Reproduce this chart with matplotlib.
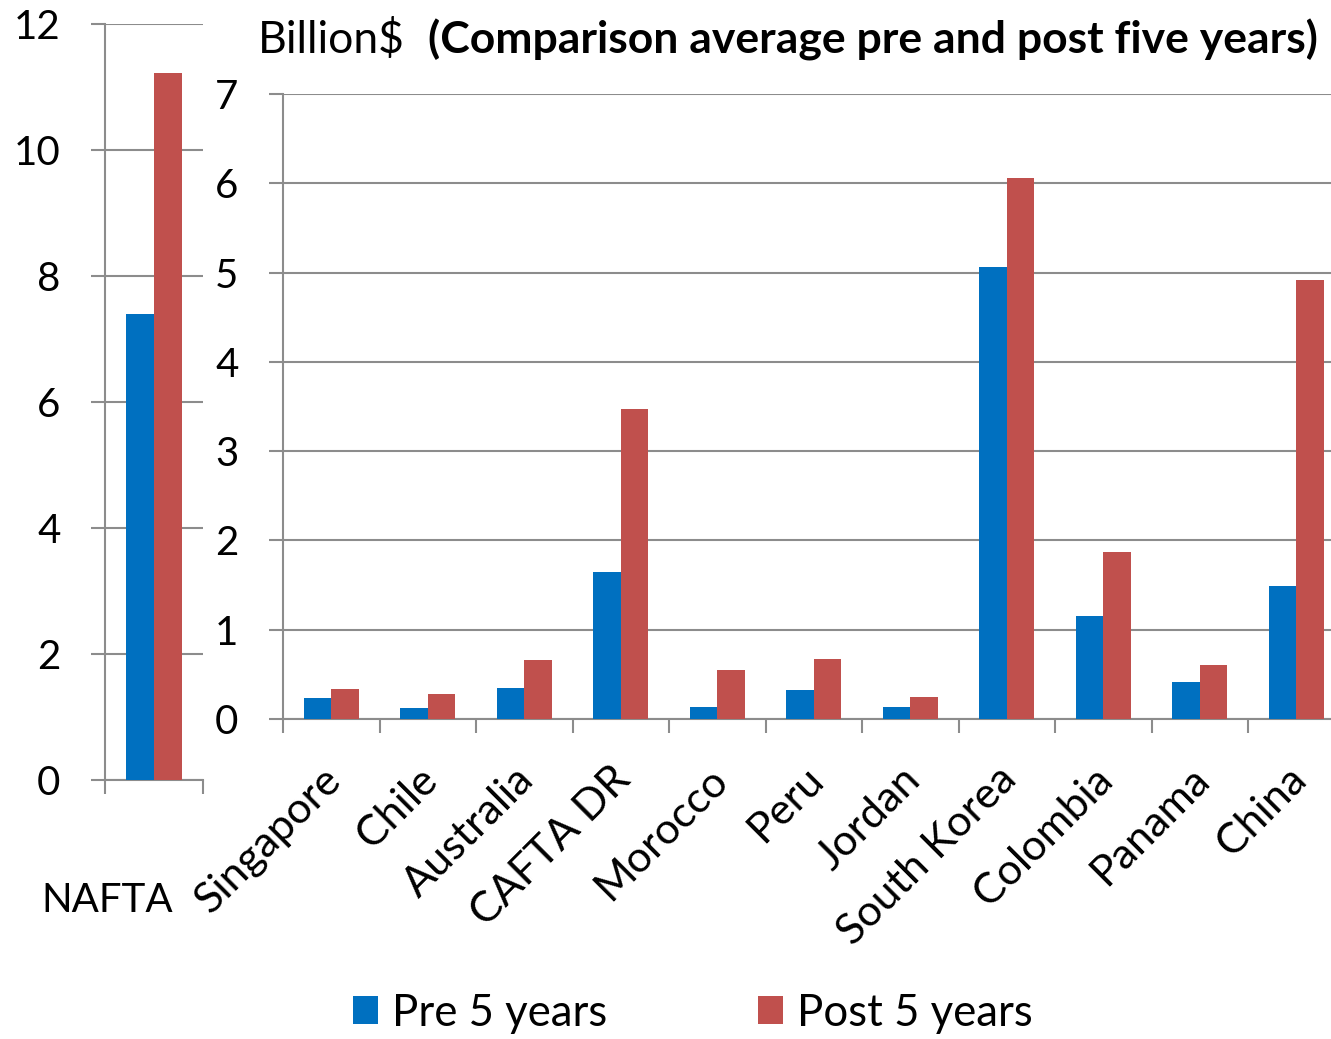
import matplotlib
matplotlib.use("Agg")
import matplotlib.pyplot as plt
from matplotlib.patches import Patch

plt.rcParams['font.family'] = ['Lato', 'DejaVu Sans']

# Data (billion $)
nafta_label = "NAFTA"
nafta_pre = 7.40
nafta_post = 11.23

partners = ["Singapore", "Chile", "Australia", "CAFTA DR", "Morocco", "Peru",
            "Jordan", "South Korea", "Colombia", "Panama", "China"]
pre_5 = [0.24, 0.12, 0.35, 1.65, 0.14, 0.32, 0.14, 5.06, 1.15, 0.41, 1.49]
post_5 = [0.34, 0.28, 0.66, 3.47, 0.55, 0.67, 0.25, 6.06, 1.87, 0.60, 4.92]

series_names = ["Pre 5 years", "Post 5 years"]
main_ticks = [0, 1, 2, 3, 4, 5, 6, 7]
nafta_ticks = [0, 2, 4, 6, 8, 10, 12]

BLUE = "#0070C0"
RED = "#C0504D"
GRID = "#8C8C8C"
FS = 29
W, H = 1331, 1039

fig = plt.figure(figsize=(W / 100, H / 100), dpi=100)


def fx(px):
    return px / W


def fy(py):
    return 1 - py / H


def style_axes(ax):
    ax.set_facecolor("none")
    for side in ("top", "right"):
        ax.spines[side].set_visible(False)
    for side in ("left", "bottom"):
        ax.spines[side].set_color(GRID)
        ax.spines[side].set_linewidth(1.5)
    ax.yaxis.grid(True, color=GRID, linewidth=1.5)
    ax.set_axisbelow(True)
    ax.tick_params(axis="both", direction="out", color=GRID, width=1.5,
                   length=10, labelsize=FS)
    ax.tick_params(axis="y", pad=22)


bw = 0.285

# NAFTA panel on its own scale
ax_n = fig.add_axes([fx(105), fy(780), fx(203) - fx(105), fy(24) - fy(780)])
style_axes(ax_n)
ax_n.bar([0.5 - bw / 2], [nafta_pre], width=bw, color=BLUE, zorder=3)
ax_n.bar([0.5 + bw / 2], [nafta_post], width=bw, color=RED, zorder=3)
ax_n.set_xlim(0, 1)
ax_n.set_ylim(0, 12)
ax_n.set_yticks(nafta_ticks)
ax_n.set_xticks([0, 1])
ax_n.set_xticklabels([])
fig.text(fx(107), fy(900), nafta_label, fontsize=FS, ha="center", va="center")

# Main panel for the other partners
ax = fig.add_axes([fx(283), fy(719), fx(1344.5) - fx(283), fy(94) - fy(719)])
style_axes(ax)
xs = [i + 0.5 for i in range(len(partners))]
ax.bar([x - bw / 2 for x in xs], pre_5, width=bw, color=BLUE, zorder=3)
ax.bar([x + bw / 2 for x in xs], post_5, width=bw, color=RED, zorder=3)
ax.set_xlim(0, len(partners))
ax.set_ylim(0, 7)
ax.set_yticks(main_ticks)
ax.set_xticks(range(len(partners) + 1))
ax.set_xticklabels([])

for x, name in zip(xs, partners):
    ax.annotate(name, xy=(x, 0), xycoords="data", xytext=(17, -41),
                textcoords="offset pixels", rotation=45, ha="right", va="top",
                fontsize=31, annotation_clip=False)

# Heading
fig.text(fx(258), fy(40), "Billion$", fontsize=32, ha="left", va="center")
fig.text(fx(428), fy(40), "(Comparison average pre and post five years)",
         fontsize=32, fontweight="bold", ha="left", va="center")

# Legend
handles = [Patch(facecolor=BLUE, edgecolor="none"),
           Patch(facecolor=RED, edgecolor="none")]
fig.legend(handles, series_names, loc="center",
           bbox_to_anchor=(fx(693), fy(1013)), ncol=2, frameon=False,
           fontsize=31.5, handlelength=0.57, handleheight=0.62,
           handletextpad=0.32, columnspacing=3.45)

fig.savefig("out.png", dpi=100)
